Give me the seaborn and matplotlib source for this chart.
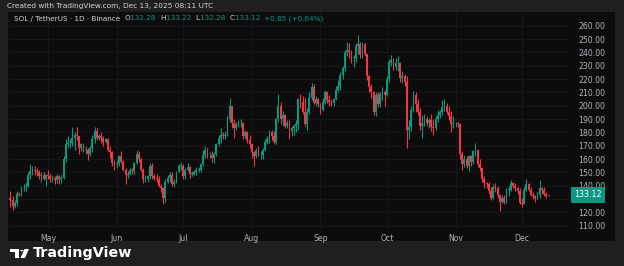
import numpy as np
import pandas as pd
import matplotlib
matplotlib.use("Agg")
import matplotlib.pyplot as plt
import matplotlib.dates as mdates
from matplotlib.patches import Rectangle, Polygon, Circle
import seaborn as sns

# ---------------- data (daily SOL/USDT, Apr 14 - Dec 13 2025) ----------------
start_date = "2025-04-14"
first_open = 131.0
closes = [
    # Apr 14-30
    129, 125, 127, 134, 133, 139, 139, 140, 148, 151, 152, 151, 150, 147, 148, 145, 148,
    # May
    147, 145, 146, 144, 147, 145, 146, 160, 171, 172, 172, 176, 178, 177, 168, 171, 167, 167,
    164, 168, 175, 181, 176, 177, 176, 173, 175, 167, 165, 157, 156,
    # Jun
    157, 162, 158, 152, 148, 149, 152, 151, 157, 164, 160, 152, 145, 145, 147, 155, 147, 146,
    145, 140, 138, 131, 143, 146, 148, 141, 143, 150, 155, 155,
    # Jul
    147, 152, 154, 149, 149, 150, 152, 152, 156, 163, 167, 163, 163, 161, 164, 171, 176, 178,
    177, 178, 190, 200, 187, 183, 186, 187, 187, 177, 180, 174, 171,
    # Aug
    165, 162, 167, 163, 163, 167, 173, 175, 180, 177, 173, 190, 200, 190, 193, 185, 187, 181,
    183, 185, 186, 205, 203, 195, 186, 195, 206, 214, 202, 205, 201,
    # Sep
    197, 203, 210, 204, 203, 202, 205, 212, 215, 223, 228, 240, 242, 240, 236, 236, 245, 246,
    238, 246, 239, 222, 214, 210, 195, 208, 201, 209, 210, 208,
    # Oct
    220, 233, 234, 229, 232, 232, 221, 222, 218, 182, 184, 197, 208, 201, 195, 185, 187, 190,
    187, 189, 184, 183, 190, 193, 195, 199, 200, 195, 192, 186, 187,
    # Nov
    187, 186, 164, 156, 160, 155, 162, 158, 166, 167, 156, 153, 145, 142, 141, 136, 131, 139,
    138, 133, 128, 131, 128, 137, 137, 142, 140, 138, 136, 127,
    # Dec 1-13
    126, 137, 141, 137, 133, 132, 131, 133, 138, 137, 134, 132.27, 133.12,
]
highs = [
    136, 132, 129, 136, 135, 140, 141, 143, 150, 156, 155, 155, 153, 152, 150, 150, 149,
    152, 149, 148, 147, 149, 148, 148, 162, 175, 177, 175, 184, 180, 184, 177, 172, 172, 170,
    168, 170, 178, 184, 183, 179, 180, 177, 176, 176, 170, 166, 159,
    159, 163, 166, 159, 153, 151, 153, 153, 158, 167, 166, 161, 153, 148, 148, 157, 157, 149,
    149, 147, 141, 139, 145, 148, 150, 150, 145, 151, 156, 158,
    156, 153, 157, 155, 151, 152, 154, 154, 157, 167, 170, 168, 165, 166, 165, 172, 178, 183,
    180, 181, 192, 206, 200, 190, 188, 189, 190, 188, 182, 181, 178,
    172, 166, 168, 170, 166, 168, 175, 177, 182, 182, 181, 191, 209, 203, 196, 194, 189, 189,
    185, 186, 189, 206, 209, 207, 206, 198, 210, 217, 216, 207, 206,
    202, 206, 212, 211, 208, 205, 206, 215, 219, 225, 230, 242, 248, 247, 242, 238, 247, 253,
    248, 248, 247, 238, 223, 216, 211, 210, 210, 210, 214, 212,
    222, 235, 238, 236, 236, 237, 233, 226, 224, 222, 189, 200, 211, 210, 205, 198, 193, 194,
    192, 191, 194, 190, 192, 197, 197, 204, 205, 202, 200, 196, 192,
    188, 188, 187, 166, 163, 162, 163, 163, 167, 172, 167, 160, 154, 147, 143, 143, 139, 141,
    142, 140, 134, 133, 133, 138, 140, 144, 143, 142, 139, 138,
    131, 139, 145, 142, 139, 135, 133, 135, 144, 139, 139, 135, 133.22,
]
lows = [
    124, 122, 123, 125, 132, 132, 136, 136, 139, 145, 148, 148, 147, 145, 143, 144, 140,
    145, 143, 143, 141, 142, 141, 142, 145, 158, 169, 168, 170, 167, 174, 164, 166, 165, 164,
    159, 162, 165, 172, 174, 174, 172, 170, 172, 166, 161, 155, 152,
    153, 155, 157, 151, 141, 146, 148, 149, 149, 156, 158, 151, 142, 143, 143, 145, 145, 144,
    143, 139, 135, 126, 128, 142, 143, 140, 139, 142, 150, 152,
    145, 145, 151, 146, 147, 148, 148, 150, 150, 155, 161, 161, 161, 158, 157, 162, 170, 172,
    175, 175, 177, 188, 183, 176, 182, 184, 184, 175, 176, 172, 168,
    161, 155, 161, 162, 160, 160, 166, 171, 172, 174, 171, 171, 188, 186, 185, 183, 183, 175,
    177, 178, 180, 182, 198, 194, 185, 182, 194, 204, 201, 200, 199,
    194, 196, 201, 202, 200, 200, 200, 204, 210, 212, 220, 226, 237, 236, 232, 229, 233, 239,
    236, 236, 237, 219, 210, 206, 193, 192, 199, 199, 204, 200,
    207, 218, 230, 227, 227, 226, 218, 217, 215, 168, 175, 181, 195, 195, 193, 182, 176, 185,
    185, 183, 181, 178, 182, 188, 191, 193, 196, 194, 189, 180, 183,
    184, 184, 160, 152, 154, 153, 151, 155, 156, 162, 154, 151, 143, 138, 138, 134, 129, 130,
    135, 131, 121, 127, 126, 127, 132, 136, 138, 136, 134, 126,
    124, 126, 136, 136, 132, 130, 128, 130, 131, 134, 132, 131, 132.28,
]
month_labels = ["May", "Jun", "Jul", "Aug", "Sep", "Oct", "Nov", "Dec"]
month_starts = ["2025-05-01", "2025-06-01", "2025-07-01", "2025-08-01",
                "2025-09-01", "2025-10-01", "2025-11-01", "2025-12-01"]
price_ticks = list(range(110, 261, 10))
last_open, last_high, last_low, last_close = 132.28, 133.22, 132.28, 133.12
change, change_pct = 0.85, 0.64

# ---------------- build frame ----------------
n = min(len(closes), len(highs), len(lows))
closes, highs, lows = closes[:n], highs[:n], lows[:n]
dates = pd.date_range(start_date, periods=n, freq="D")
opens = [first_open] + closes[:-1]
opens[-1] = last_open
df = pd.DataFrame({"date": dates, "open": opens, "high": highs,
                   "low": lows, "close": closes})
df["x"] = mdates.date2num(df["date"])
df["up"] = df["close"] >= df["open"]

UP = "#089981"
DOWN = "#f23645"
OUTER = "#1f1f1f"
PANEL = "#0c0c0c"
TXT = "#b2b5be"

sns.set_style("dark")
plt.rcParams["font.family"] = ["DejaVu Sans"]

W, H = 624, 266
fig = plt.figure(figsize=(W / 100, H / 100), dpi=100, facecolor=OUTER)

def fx(px):
    return px / W

def fy(py):
    return 1 - py / H

# black chart panel (background axes)
bg = fig.add_axes([fx(8), fy(241), fx(615) - fx(8), fy(12) - fy(241)], zorder=-5)
bg.set_facecolor(PANEL)
bg.set_xticks([])
bg.set_yticks([])
for s in bg.spines.values():
    s.set_visible(False)

ax = fig.add_axes([fx(8), fy(229), fx(570) - fx(8), fy(12) - fy(229)], zorder=1)
ax.patch.set_alpha(0)
for s in ax.spines.values():
    s.set_visible(False)

# candles
colors = np.where(df["up"], UP, DOWN)
ax.vlines(df["x"], df["low"], df["high"], colors=colors, linewidth=0.8, zorder=3)
body_bottom = np.minimum(df["open"], df["close"])
body_h = np.maximum(np.abs(df["close"] - df["open"]), 0.4)
ax.bar(df["x"], body_h, bottom=body_bottom, width=0.8, color=colors,
       linewidth=0, zorder=4)

# axes ranges: left edge ~ Apr 12.9, right edge ~ Dec 22.7
x0 = mdates.date2num(pd.Timestamp("2025-05-01"))
ax.set_xlim(x0 - 18.06, x0 + 235.7)
ax.set_ylim(107.53, 270.28)

ax.set_xticks(mdates.date2num(pd.to_datetime(month_starts)))
ax.set_xticklabels(month_labels)
ax.set_yticks(price_ticks)
ax.set_yticklabels([f"{v:.2f}" for v in price_ticks])
ax.yaxis.tick_right()
ax.tick_params(axis="both", length=0, colors=TXT, labelsize=5.6)
ax.tick_params(axis="x", pad=3.5)
ax.tick_params(axis="y", pad=6)
ax.grid(True, color="#191919", linewidth=0.6)
ax.set_axisbelow(True)

# last price label
ax.text(1.0 + fx(4) / (fx(570) - fx(8)), last_close, f"{last_close:.2f}",
        transform=ax.get_yaxis_transform(), ha="left", va="center",
        fontsize=5.8, color="white", zorder=10,
        bbox=dict(boxstyle="square,pad=0.4", facecolor=UP, edgecolor="none"))

# header text
fig.text(fx(7), fy(6), "Created with TradingView.com, Dec 13, 2025 08:11 UTC",
         fontsize=5.3, color="#d1d4dc", ha="left", va="center")

# legend line
parts = [("SOL / TetherUS · 1D · Binance  ", "#d1d4dc"),
         ("O", "#d1d4dc"), (f"{last_open:.2f}  ", UP),
         ("H", "#d1d4dc"), (f"{last_high:.2f}  ", UP),
         ("L", "#d1d4dc"), (f"{last_low:.2f}  ", UP),
         ("C", "#d1d4dc"), (f"{last_close:.2f}  ", UP),
         (f"+{change:.2f} (+{change_pct:.2f}%)", UP)]
fig.canvas.draw()
renderer = fig.canvas.get_renderer()
xpos = fx(14)
for txt, col in parts:
    t = fig.text(xpos, fy(18.5), txt, fontsize=5.2, color=col, ha="left", va="center")
    bb = t.get_window_extent(renderer=renderer)
    xpos += bb.width / W

# TradingView footer logo + text
fig.patches.append(Rectangle((fx(10), fy(252)), fx(8.5), fy(249) - fy(252),
                             transform=fig.transFigure, facecolor="white",
                             edgecolor="none"))
fig.patches.append(Rectangle((fx(15), fy(258)), fx(3.5), fy(252) - fy(258),
                             transform=fig.transFigure, facecolor="white",
                             edgecolor="none"))
fig.patches.append(Circle((fx(21.8), fy(250.6)), fx(1.7), transform=fig.transFigure,
                          facecolor="white", edgecolor="none"))
fig.patches.append(Polygon([(fx(24.5), fy(249)), (fx(29), fy(249)),
                            (fx(25), fy(258)), (fx(20.5), fy(258))],
                           closed=True, transform=fig.transFigure,
                           facecolor="white", edgecolor="none"))
fig.text(fx(33), fy(253.5), "TradingView", fontsize=10.3, fontweight="bold",
         color="white", ha="left", va="center")

fig.savefig("out.png", dpi=100, facecolor=OUTER)
